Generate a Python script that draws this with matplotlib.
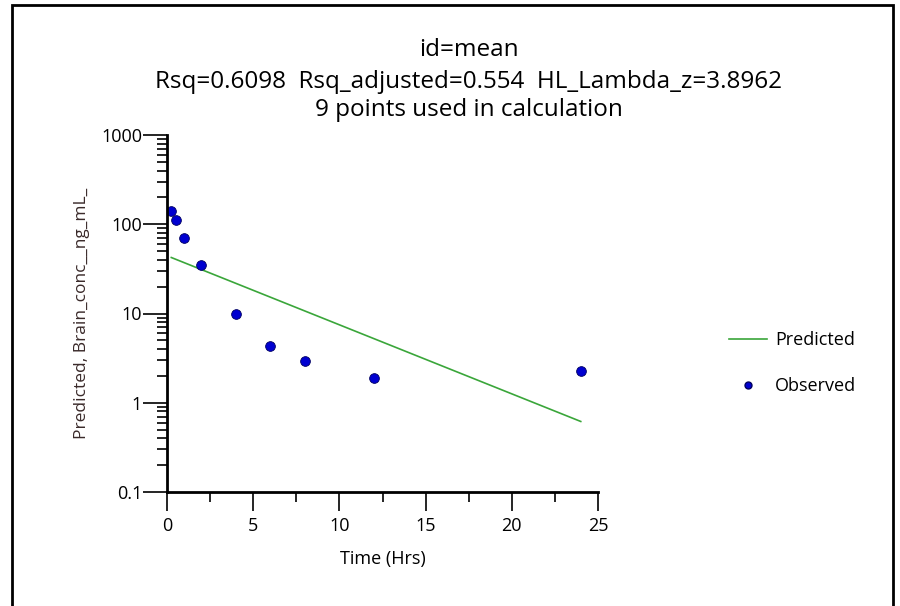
import matplotlib.pyplot as plt
import matplotlib.ticker as mticker
from matplotlib.lines import Line2D
from matplotlib.patches import Rectangle

plt.rcParams['font.family'] = ['Open Sans', 'DejaVu Sans']

time_obs = [0.25, 0.5, 1, 2, 4, 6, 8, 12, 24]
conc_obs = [142, 113, 71, 35, 10, 4.27, 2.95, 1.89, 2.28]

time_pred = [0.25, 24]
conc_pred = [42.4, 0.617]

title_lines = ['id=mean',
               'Rsq=0.6098  Rsq_adjusted=0.554  HL_Lambda_z=3.8962',
               '9 points used in calculation']
x_ticks = [0, 5, 10, 15, 20, 25]
y_ticks = [0.1, 1, 10, 100, 1000]
y_tick_labels = ['0.1', '1', '10', '100', '1000']

fig = plt.figure(figsize=(9, 6.06), dpi=100)
fig.patches.append(Rectangle((12 / 900, -0.01), 881 / 900, 1 - 5 / 606 + 0.01,
                             transform=fig.transFigure, fill=False,
                             edgecolor='black', linewidth=2))

ax = fig.add_axes([167 / 900, (606 - 492) / 606, (598 - 167) / 900, (492 - 135) / 606])
ax.plot(time_pred, conc_pred, color='#3aa63a', linewidth=1.2)
ax.plot(time_obs, conc_obs, linestyle='none', marker='o', markersize=7,
        markerfacecolor='#0000d0', markeredgecolor='#000060', markeredgewidth=0.6)

ax.set_yscale('log')
ax.set_xlim(0, 25)
ax.set_ylim(0.1, 1000)
ax.set_xticks(x_ticks)
ax.set_yticks(y_ticks)
ax.set_yticklabels(y_tick_labels)
ax.xaxis.set_minor_locator(mticker.MultipleLocator(2.5))
ax.yaxis.set_minor_locator(mticker.LogLocator(base=10, subs=range(2, 10)))
ax.yaxis.set_minor_formatter(mticker.NullFormatter())

for s in ['top', 'right']:
    ax.spines[s].set_visible(False)
for s in ['left', 'bottom']:
    ax.spines[s].set_linewidth(2)

ax.tick_params(axis='x', which='major', direction='out', length=14, width=1.2,
               labelsize=13, pad=4)
ax.tick_params(axis='x', which='minor', direction='out', length=7, width=1.2)
ax.tick_params(axis='y', which='major', direction='out', length=17, width=1.2,
               labelsize=13, pad=1)
ax.tick_params(axis='y', which='minor', direction='out', length=7, width=1.2)

ax.set_xlabel('Time (Hrs)', fontsize=13, labelpad=11)
ax.set_ylabel('Predicted, Brain_conc__ng_mL_', fontsize=12.5, color='#3a2a2a', labelpad=8)

fig.text(469 / 900, 1 - 50 / 606, title_lines[0], ha='center', va='center', fontsize=17.5)
fig.text(469 / 900, 1 - 82 / 606, title_lines[1], ha='center', va='center', fontsize=17.5)
fig.text(469 / 900, 1 - 110 / 606, title_lines[2], ha='center', va='center', fontsize=17.5)

handles = [Line2D([], [], color='#3aa63a', linewidth=1.2),
           Line2D([], [], linestyle='none', marker='o', markersize=5,
                  markerfacecolor='#0000d0', markeredgecolor='#000060')]
fig.legend(handles, ['Predicted', 'Observed'], loc='center left',
           bbox_to_anchor=(713 / 900, 1 - 363 / 606), frameon=False,
           fontsize=13, labelspacing=1.55, handlelength=2.1, handletextpad=0.45)

fig.savefig('out.png', dpi=100)
